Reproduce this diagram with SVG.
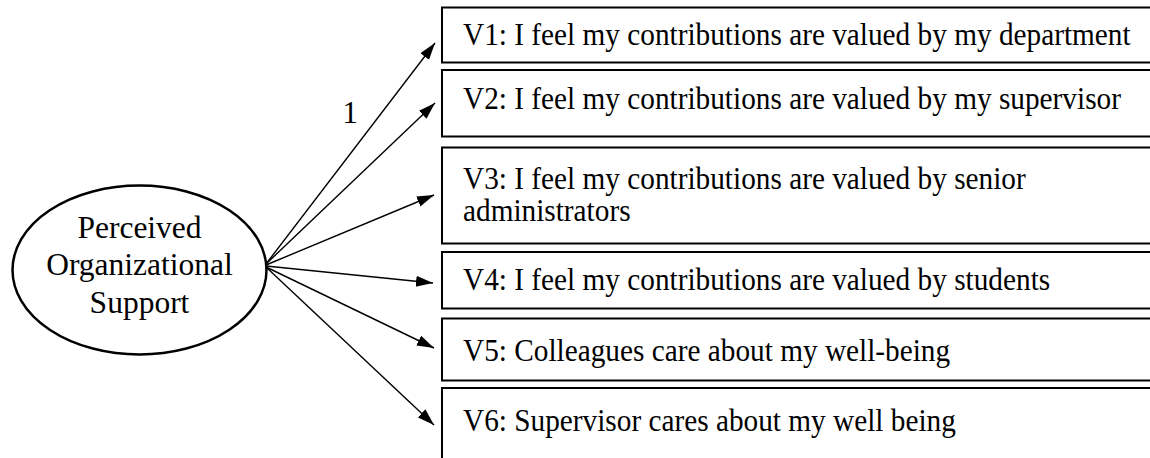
<svg xmlns="http://www.w3.org/2000/svg" width="1150" height="458" viewBox="0 0 1150 458">
  <style>
    .box { fill: #ffffff; stroke: #000000; stroke-width: 2; }
    .lat { fill: #ffffff; stroke: #000000; stroke-width: 2.5; }
    .txt { font-family: "Liberation Serif", "Times New Roman", serif; font-size: 31.5px; fill: #000000; }
    .ltxt { font-family: "Liberation Serif", "Times New Roman", serif; font-size: 31.5px; fill: #000000; text-anchor: middle; }
    .edge { stroke: #000000; stroke-width: 1.4; fill: none; marker-end: url(#arrow); }
  </style>
  <defs>
    <marker id="arrow" markerUnits="userSpaceOnUse" markerWidth="18" markerHeight="12" refX="17" refY="5.5" orient="auto">
      <path d="M0,0 L17,5.5 L0,11 Z" fill="#000000"/>
    </marker>
  </defs>
  <rect width="1150" height="458" fill="#ffffff"/>

  <g id="connectors">
    <line class="edge" x1="266" y1="264" x2="435" y2="43"/>
    <line class="edge" x1="266" y1="264" x2="435" y2="103"/>
    <line class="edge" x1="266" y1="265" x2="434" y2="195"/>
    <line class="edge" x1="266" y1="266" x2="433" y2="283"/>
    <line class="edge" x1="266" y1="267" x2="434" y2="348"/>
    <line class="edge" x1="266" y1="267" x2="434" y2="425"/>
    <text class="ltxt" x="350" y="123">1</text>
  </g>

  <g id="pos">
    <ellipse class="lat" cx="139.5" cy="270" rx="127" ry="84.5"/>
    <text class="ltxt" x="139.5" y="238">Perceived</text>
    <text class="ltxt" x="139.5" y="275">Organizational</text>
    <text class="ltxt" x="139.5" y="313">Support</text>
  </g>

  <g id="v1">
    <rect class="box" x="442" y="7.5" width="712" height="55"/>
    <text class="txt" transform="matrix(0.93 0 0 1 463 0)" x="0" y="45.5">V1: I feel my contributions are valued by my department</text>
  </g>
  <g id="v2">
    <rect class="box" x="442" y="70" width="712" height="66.5"/>
    <text class="txt" transform="matrix(0.93 0 0 1 463 0)" x="0" y="109">V2: I feel my contributions are valued by my supervisor</text>
  </g>
  <g id="v3">
    <rect class="box" x="442" y="147.5" width="712" height="96"/>
    <text class="txt" transform="matrix(0.93 0 0 1 463 0)" x="0" y="189">V3: I feel my contributions are valued by senior</text>
    <text class="txt" transform="matrix(0.93 0 0 1 463 0)" x="0" y="221">administrators</text>
  </g>
  <g id="v4">
    <rect class="box" x="442" y="252" width="712" height="56.5"/>
    <text class="txt" transform="matrix(0.93 0 0 1 463 0)" x="0" y="290">V4: I feel my contributions are valued by students</text>
  </g>
  <g id="v5">
    <rect class="box" x="442" y="318.5" width="712" height="62"/>
    <text class="txt" transform="matrix(0.93 0 0 1 463 0)" x="0" y="361">V5: Colleagues care about my well-being</text>
  </g>
  <g id="v6">
    <rect class="box" x="442" y="388" width="712" height="90"/>
    <text class="txt" transform="matrix(0.93 0 0 1 463 0)" x="0" y="431.5">V6: Supervisor cares about my well being</text>
  </g>
</svg>
